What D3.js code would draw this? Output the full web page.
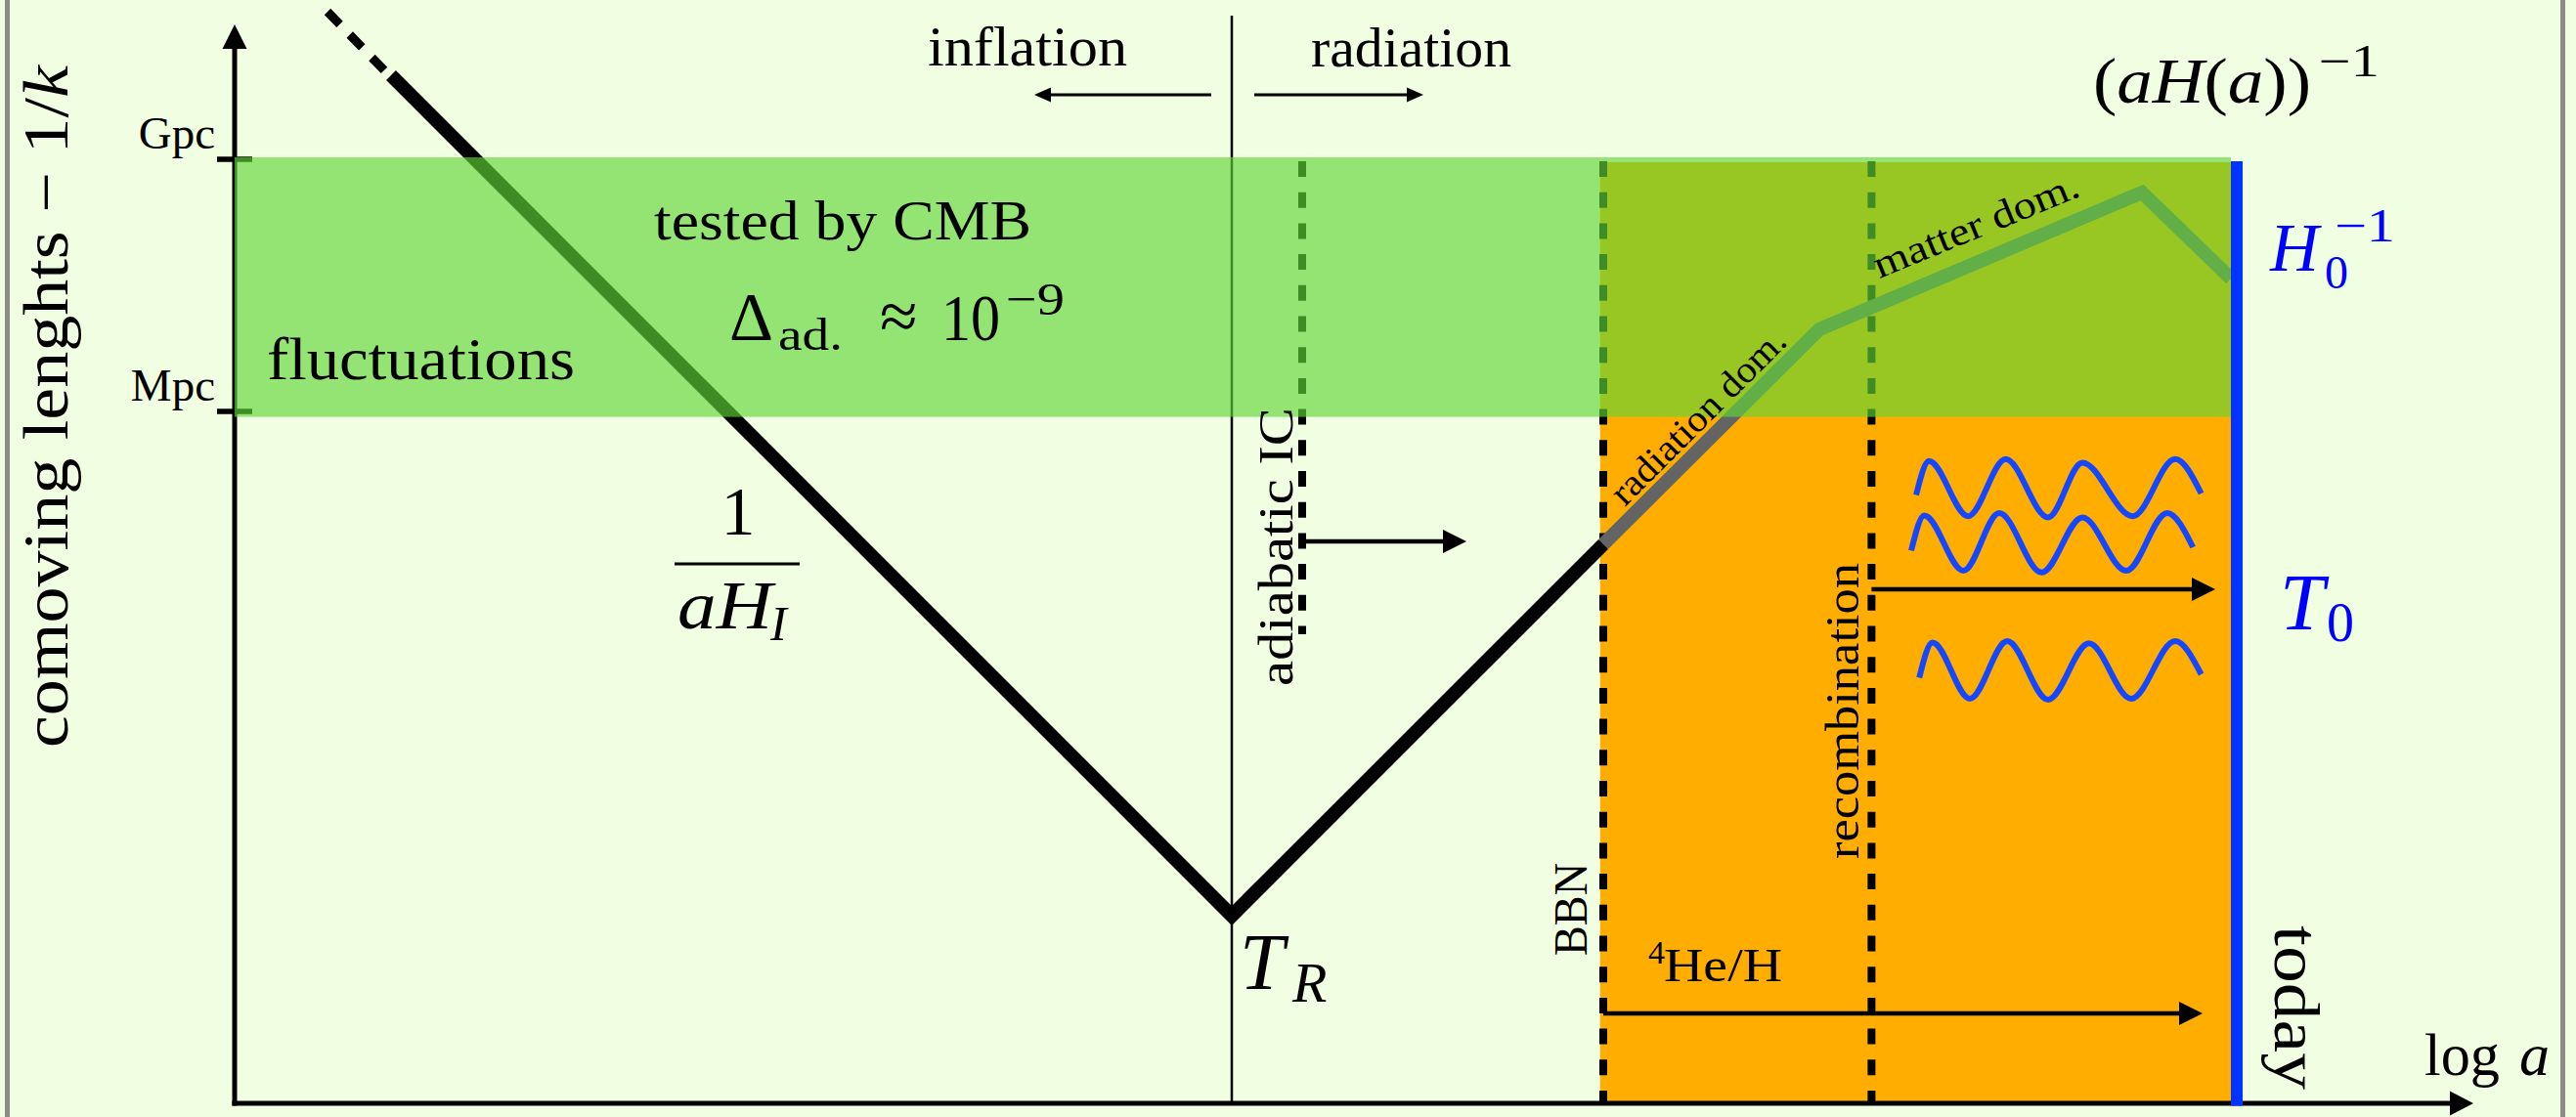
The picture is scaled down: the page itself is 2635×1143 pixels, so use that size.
<!DOCTYPE html>
<html>
<head>
<meta charset="utf-8">
<script src="https://cdn.jsdelivr.net/npm/d3@7"></script>
<style>
html, body { margin: 0; padding: 0; background: #f0fee1; }
svg { display: block; }
text { font-family: "Liberation Serif", "Times New Roman", serif; }
</style>
</head>
<body>
<svg id="chart"></svg>
<script>
// x = log a, y = log of comoving length (arbitrary units)
const hubbleEarly = [[-23.125, 27.925], [-21.625, 26.375]];
const hubbleInflRad = [[-21.5, 26.3], [0, 4.8], [9.5, 14.3]];
const hubbleLate = [[9.5, 14.3], [15.025, 19.8], [23.275, 23.3], [25.55, 21.1]];

const scaleTicks = [24.16, 17.71];
const scaleTickLabels = ["Gpc", "Mpc"];

const epochNames = ["adiabatic IC", "BBN", "recombination"];
const epochX = [1.8, 9.5, 16.36];
const epochTop = [24.1, 24.1, 24.1];
const epochBottom = [12.0, 0, 0];

const reheatX = 0;
const todayX = 25.7;
const cmbBand = [17.56, 24.2];
const plasmaStart = 9.42;
const plasmaTop = 24.075;

const flowStart = [1.8, 16.36, 9.5];
const flowEnd = [6.0, 25.15, 24.825];
const flowY = [14.375, 13.15, 2.3];

const eraStart = [-0.525, 0.575];
const eraEnd = [-5.05, 4.9];
const eraY = 25.8;

const photonWaves = [
  [[17.5, 15.56], [17.83, 16.43], [18.83, 15.02], [19.79, 16.48], [20.875, 14.99], [21.75, 16.39], [23.04, 15.02], [24.125, 16.48], [24.79, 15.6]],
  [[17.375, 14.14], [17.71, 15.04], [18.71, 13.625], [19.625, 15.1], [20.71, 13.58], [21.75, 14.99], [22.875, 13.625], [23.92, 15.1], [24.58, 14.225]],
  [[17.58, 10.89], [17.92, 11.79], [18.875, 10.35], [19.83, 11.825], [20.875, 10.325], [21.92, 11.77], [23.0, 10.35], [24.125, 11.825], [24.79, 10.975]]
];

const W = 2635, H = 1143;
const svg = d3.select("#chart").attr("width", W).attr("height", H);

const x = d3.scaleLinear().domain([-25.5, 31.75]).range([240, 2530]);
const y = d3.scaleLinear().domain([0, 27.6]).range([1129, 25]);

svg.append("rect").attr("width", W).attr("height", H).attr("fill", "#f0fee1");

// side frame
[7.5, 2621.5].forEach(function (bx) {
  svg.append("line").attr("x1", bx).attr("x2", bx).attr("y1", 0).attr("y2", H)
    .attr("stroke", "#8c8c86").attr("stroke-width", 5);
});

// plasma era
svg.append("rect")
  .attr("x", x(plasmaStart)).attr("y", y(plasmaTop))
  .attr("width", x(todayX) - x(plasmaStart)).attr("height", y(0) - y(plasmaTop))
  .attr("fill", "#ffad00");

// reheating line
svg.append("line")
  .attr("x1", x(reheatX)).attr("x2", x(reheatX))
  .attr("y1", y(27.825)).attr("y2", y(0))
  .attr("stroke", "#000").attr("stroke-width", 2.5);

// epoch dashed lines
svg.append("g").selectAll("line")
  .data(epochX)
  .enter().append("line")
  .attr("x1", function (d) { return x(d); })
  .attr("x2", function (d) { return x(d); })
  .attr("y1", function (d, i) { return y(epochTop[i]); })
  .attr("y2", function (d, i) { return y(epochBottom[i]); })
  .attr("stroke", "#000").attr("stroke-width", 8)
  .attr("stroke-dasharray", "16 15.7");

// comoving Hubble radius
const line = d3.line().x(function (d) { return x(d[0]); }).y(function (d) { return y(d[1]); });

svg.append("path").attr("d", line(hubbleEarly))
  .attr("fill", "none").attr("stroke", "#000").attr("stroke-width", 9)
  .attr("stroke-dasharray", "18 14.7");
svg.append("path").attr("d", line(hubbleInflRad))
  .attr("fill", "none").attr("stroke", "#000").attr("stroke-width", 14)
  .attr("stroke-linejoin", "miter");
svg.append("path").attr("d", line(hubbleLate))
  .attr("fill", "none").attr("stroke", "#646464").attr("stroke-width", 14)
  .attr("stroke-linejoin", "miter");

function arrow(g, x1, y1, x2, y2, w, len, half, color) {
  let dx = x2 - x1, dy = y2 - y1;
  let L = Math.hypot(dx, dy), ux = dx / L, uy = dy / L;
  let bx = x2 - ux * len, by = y2 - uy * len;
  g.append("line")
    .attr("x1", x1).attr("y1", y1)
    .attr("x2", x2 - ux * len * 0.6).attr("y2", y2 - uy * len * 0.6)
    .attr("stroke", color || "#000").attr("stroke-width", w);
  g.append("path")
    .attr("d", "M" + x2 + "," + y2 +
      "L" + (bx - uy * half) + "," + (by + ux * half) +
      "L" + (bx + uy * half) + "," + (by - ux * half) + "Z")
    .attr("fill", color || "#000");
}

// axes
let axes = svg.append("g");
arrow(axes, x(-25.5) - 2.5, y(0), x(31.75), y(0), 5, 24, 12.5);
arrow(axes, x(-25.5), y(0) + 2.5, x(-25.5), y(27.6), 5, 25, 12.5);

let yAxis = d3.axisLeft(y)
  .tickValues(scaleTicks)
  .tickFormat(function (d, i) { return scaleTickLabels[i]; })
  .tickSize(36).tickPadding(2);
let ga = svg.append("g")
  .attr("transform", "translate(" + (x(-25.5) + 18) + ",0)")
  .call(yAxis);
ga.attr("font-family", "Liberation Serif").attr("font-size", 47);
ga.select(".domain").remove();
ga.selectAll(".tick line").attr("stroke", "#000").attr("stroke-width", 5.5);
ga.selectAll(".tick text").attr("dy", -11.5).attr("fill", "#000");

// band of scales tested by the CMB
svg.append("rect")
  .attr("x", x(-25.5)).attr("y", y(cmbBand[1]))
  .attr("width", x(todayX) - 6 - x(-25.5)).attr("height", y(cmbBand[0]) - y(cmbBand[1]))
  .attr("fill", "rgb(97,214,55)").attr("opacity", 0.65);

// today
svg.append("line")
  .attr("x1", x(todayX)).attr("x2", x(todayX))
  .attr("y1", y(24.1)).attr("y2", y(0) + 2.5)
  .attr("stroke", "#0033ff").attr("stroke-width", 12);

// arrows
let arrows = svg.append("g");
flowStart.forEach(function (d, i) {
  arrow(arrows, x(d), y(flowY[i]), x(flowEnd[i]), y(flowY[i]), 4.7, 24, 12);
});
eraStart.forEach(function (d, i) {
  arrow(arrows, x(d), y(eraY), x(eraEnd[i]), y(eraY), 2.8, 17, 7.5);
});

// photons
let wave = d3.line()
  .x(function (d) { return x(d[0]); })
  .y(function (d) { return y(d[1]); })
  .curve(d3.curveMonotoneX);
svg.append("g").selectAll("path")
  .data(photonWaves)
  .enter().append("path")
  .attr("d", wave)
  .attr("fill", "none").attr("stroke", "#1447ff").attr("stroke-width", 6);

// labels
let T = svg.append("g");
function txt(s, tx, ty, size, o) {
  o = o || {};
  let t = T.append("text").attr("x", tx).attr("y", ty).attr("font-size", size)
    .attr("fill", o.fill || "#000").text(s);
  if (o.italic) t.attr("font-style", "italic");
  if (o.len) t.attr("textLength", o.len).attr("lengthAdjust", "spacingAndGlyphs");
  if (o.anchor) t.attr("text-anchor", o.anchor);
  if (o.rotate) t.attr("transform", "rotate(" + o.rotate + "," + tx + "," + ty + ")");
  return t;
}

// y axis title
let yt = txt("", x(-29.775), y(17.825), 66, { anchor: "middle", len: 698, rotate: -90 });
yt.append("tspan").text("comoving lenghts \u2212 1/");
yt.append("tspan").attr("font-style", "italic").text("k");

txt("inflation", x(-7.775), y(26.55), 56, { len: 204 });
txt("radiation", x(2.025), y(26.525), 56, { len: 205 });

txt("tested by CMB", x(-14.775), y(22.1), 58, { len: 386 });
txt("\u0394", x(-12.85), y(19.525), 70);
txt("ad.", x(-11.6), y(19.275), 46, { len: 66 });
txt("\u2248", x(-9.0), y(19.55), 70);
txt("10", x(-7.425), y(19.525), 68, { len: 60 });
txt("\u22129", x(-5.775), y(20.175), 47, { len: 60 });
txt("fluctuations", x(-24.675), y(18.525), 61, { len: 315 });

// 1 / (a H_I)
txt("1", x(-12.625), y(14.55), 70, { anchor: "middle" });
T.append("line")
  .attr("x1", x(-14.25)).attr("x2", x(-11.05))
  .attr("y1", y(13.8)).attr("y2", y(13.8))
  .attr("stroke", "#000").attr("stroke-width", 3);
txt("aH", x(-14.175), y(12.15), 70, { italic: true, len: 97 });
txt("I", x(-11.8), y(11.85), 50, { italic: true });

// T_R
txt("T", x(0.2), y(2.925), 82, { italic: true });
txt("R", x(1.55), y(2.6), 58, { italic: true });

// epochs
txt(epochNames[0], x(1.55), y(10.675), 50, { len: 285, rotate: -90 });
txt(epochNames[1], x(9.075), y(3.775), 48, { len: 95, rotate: -90 });
txt(epochNames[2], x(16.025), y(6.25), 48, { len: 303, rotate: -90 });

txt("4", x(10.65), y(3.575), 34);
txt("He/H", x(11.05), y(3.125), 48, { len: 121 });

txt("radiation dom.", x(10.05), y(15.25), 38, { len: 237, rotate: -45 });
txt("matter dom.", x(16.5625), y(21.1), 40, { len: 224, rotate: -22.3 });

// (aH(a))^-1
let ah = txt("", x(22.025), y(25.6), 65, { len: 223 });
ah.append("tspan").text("(");
ah.append("tspan").attr("font-style", "italic").text("aH");
ah.append("tspan").text("(");
ah.append("tspan").attr("font-style", "italic").text("a");
ah.append("tspan").text("))");
txt("\u22121", x(27.8), y(26.275), 46, { len: 62 });

// H_0^-1 and T_0
txt("H", x(26.55), y(21.3), 69, { italic: true, fill: "#0000ff" });
txt("0", x(27.95), y(20.85), 48, { fill: "#0000ff" });
txt("\u22121", x(28.2), y(22.05), 48, { fill: "#0000ff", len: 62 });
txt("T", x(26.8), y(12.1375), 82, { italic: true, fill: "#0000ff" });
txt("0", x(28.0), y(11.825), 56, { fill: "#0000ff" });

txt("today", x(26.675), y(4.55), 66, { len: 168, rotate: 90 });

txt("log", x(30.5), y(0.725), 62, { len: 77 });
txt("a", x(32.925), y(0.725), 62, { italic: true });
</script>
</body>
</html>
